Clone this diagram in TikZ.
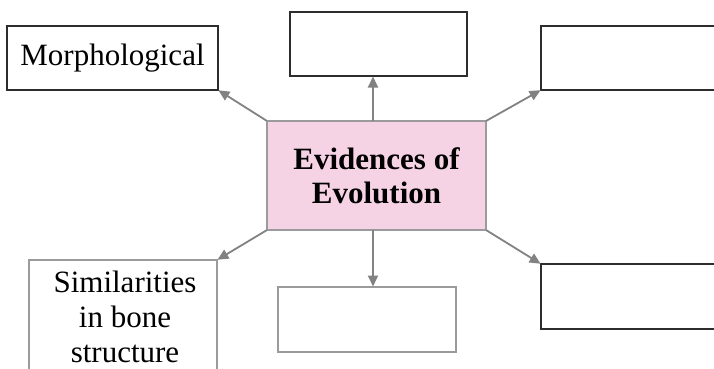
\documentclass[tikz,border=0pt]{standalone}
\usepackage{fontspec}
\setmainfont{Liberation Serif}
\usetikzlibrary{arrows.meta}
\definecolor{pinkfill}{RGB}{246,211,228}
\definecolor{darkline}{RGB}{45,45,45}
\definecolor{grayline}{RGB}{155,155,155}
\definecolor{arrowgray}{RGB}{130,130,130}
\begin{document}
\begin{tikzpicture}[x=1pt,y=-1pt,
  box/.style={draw=darkline,line width=1.6pt,inner sep=0pt,outer sep=0pt,fill=white},
  graybox/.style={draw=grayline,line width=1.6pt,inner sep=0pt,outer sep=0pt,fill=white},
  centerbox/.style={draw=grayline,line width=1.4pt,fill=pinkfill,inner sep=0pt,outer sep=0pt,
    minimum width=219pt,minimum height=109pt,align=center,font=\fontsize{31}{34}\selectfont\bfseries},
  conn/.style={draw=arrowgray,line width=1.8pt,-{Triangle[length=11pt,width=10pt]},shorten >=0.5pt},
  lbl/.style={font=\fontsize{31}{35}\selectfont,inner sep=0pt,align=center}]
\clip (0,0) rectangle (714,369);
\fill[white] (0,0) rectangle (714,369);
% nodes
\node[box,minimum width=211pt,minimum height=64pt,font=\fontsize{31}{35}\selectfont] (morph) at (112.5,58) {Morphological};
\node[box,minimum width=177pt,minimum height=64pt] (topmid) at (378.5,44) {};
\node[box,minimum width=219pt,minimum height=64pt] (topright) at (650.5,58) {};
\node[centerbox] (center) at (376.5,175.5) {Evidences of\\Evolution};
\node[graybox,minimum width=188pt,minimum height=140pt,anchor=north] (sim) at (123,260) {};
\node[lbl,anchor=base] (simtext) at (125,362) {Similarities\\in bone\\structure};
\node[graybox,minimum width=178pt,minimum height=65pt] (botmid) at (367,319.5) {};
\node[box,minimum width=219pt,minimum height=65pt] (botright) at (650.5,296.5) {};
% connectors
\draw[conn] (center.north west) -- (morph.south east);
\draw[conn] ([xshift=-3.5pt]center.north) -- ([xshift=-3.5pt]center.north |- topmid.south);
\draw[conn] (center.north east) -- (topright.south west);
\draw[conn] (center.south west) -- (sim.north east);
\draw[conn] ([xshift=-3.5pt]center.south) -- ([xshift=-3.5pt]center.south |- botmid.north);
\draw[conn] (center.south east) -- (botright.north west);
\end{tikzpicture}
\end{document}
